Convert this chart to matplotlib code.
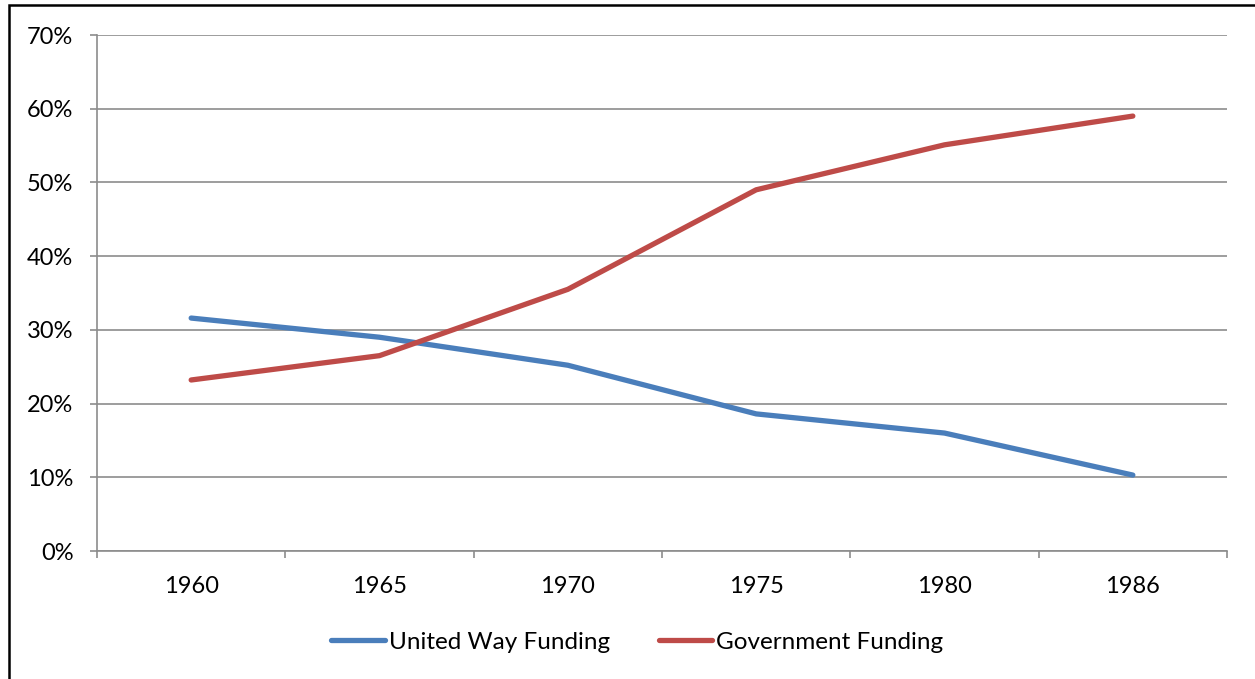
import matplotlib
matplotlib.use("Agg")
import matplotlib.pyplot as plt
from matplotlib.patches import Rectangle
from matplotlib.ticker import FuncFormatter, MultipleLocator, FixedLocator

years = ["1960", "1965", "1970", "1975", "1980", "1986"]
united_way = [31.6, 29.0, 25.2, 18.6, 16.0, 10.3]
government = [23.2, 26.5, 35.5, 49.0, 55.1, 59.0]

plt.rcParams['font.family'] = ['Lato', 'DejaVu Sans']

fig = plt.figure(figsize=(12.55, 6.79), dpi=100)
ax = fig.add_axes([97/1255, 1 - 551/679, 1130/1255, 516/679])

x = list(range(len(years)))
blue = "#4A7EBB"
red = "#BE4B48"
ax.plot(x, united_way, color=blue, lw=3.8, solid_capstyle="round", label="United Way Funding")
ax.plot(x, government, color=red, lw=3.8, solid_capstyle="round", label="Government Funding")

ax.set_xlim(-0.5, len(years) - 0.5)
ax.set_ylim(0, 70)
ax.yaxis.set_major_locator(MultipleLocator(10))
ax.yaxis.set_major_formatter(FuncFormatter(lambda v, p: f"{v:.0f}%"))
ax.set_xticks(x)
ax.set_xticklabels(years)
ax.xaxis.set_minor_locator(FixedLocator([i - 0.5 for i in range(len(years) + 1)]))

grid_c = "#8C8C8C"
ax.grid(axis="y", color=grid_c, lw=1.2)
ax.set_axisbelow(True)
for s in ["top", "right"]:
    ax.spines[s].set_visible(False)
for s in ["left", "bottom"]:
    ax.spines[s].set_color(grid_c)
    ax.spines[s].set_linewidth(1.2)

ax.tick_params(axis="y", which="major", length=5, color=grid_c, width=1.2, pad=12, labelsize=17)
ax.tick_params(axis="x", which="major", length=0, pad=18, labelsize=17)
ax.tick_params(axis="x", which="minor", length=5, color=grid_c, width=1.2)

fig.legend(loc="center", bbox_to_anchor=(0.5 + 10/1255, 1 - 642/679), ncol=2, frameon=False,
           fontsize=17.5, handlelength=2.2, handletextpad=0.17, columnspacing=2.0)

fig.patches.append(Rectangle((8.5/1255, -0.1), 1.2, (1 - 5.5/679) + 0.1, transform=fig.transFigure,
                             fill=False, edgecolor="black", lw=1.8))

fig.savefig("out.png", dpi=100)
